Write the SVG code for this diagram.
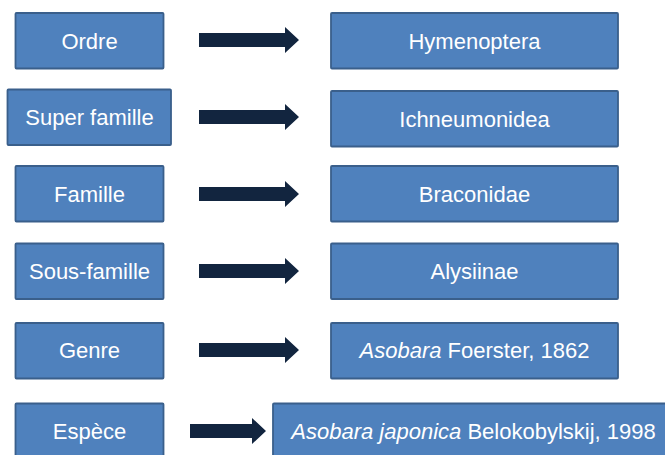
<svg xmlns="http://www.w3.org/2000/svg" width="665" height="455" viewBox="0 0 665 455">
<defs>
<style>
.box{fill:#4F81BD;stroke:#3A5F8B;stroke-width:1.8}
.t{font-family:"Liberation Sans",Arial,sans-serif;font-size:22px;fill:#FFFFFF;text-anchor:middle}
.arr{fill:#12253F}
.i{font-style:italic}
</style>
</defs>
<rect width="665" height="455" fill="#FFFFFF"/>
<g id="connectors">
<polygon class="arr" points="199,33 285,33 285,27 299,40 285,53 285,47 199,47"/>
<polygon class="arr" points="199,110 285,110 285,104 299,117 285,130 285,124 199,124"/>
<polygon class="arr" points="199,187 285,187 285,181 299,194 285,207 285,201 199,201"/>
<polygon class="arr" points="199,264 285,264 285,258 299,271 285,284 285,278 199,278"/>
<polygon class="arr" points="199,343 285,343 285,337 299,350 285,363 285,357 199,357"/>
<polygon class="arr" points="190,424 252,424 252,418 266,431 252,444 252,438 190,438"/>
</g>
<g id="ordre"><rect class="box" x="15.5" y="13" width="148" height="55.5" rx="1"/><text class="t" x="89.5" y="49">Ordre</text></g>
<g id="hymenoptera"><rect class="box" x="331" y="13" width="287" height="55.5" rx="1"/><text class="t" x="474.5" y="49">Hymenoptera</text></g>
<g id="superfamille"><rect class="box" x="7.5" y="89.5" width="163.5" height="55.5" rx="1"/><text class="t" x="89.5" y="125">Super famille</text></g>
<g id="ichneumonidea"><rect class="box" x="331" y="91" width="287" height="55.5" rx="1"/><text class="t" x="474.5" y="127">Ichneumonidea</text></g>
<g id="famille"><rect class="box" x="15.5" y="166" width="148" height="55.5" rx="1"/><text class="t" x="89.5" y="202">Famille</text></g>
<g id="braconidae"><rect class="box" x="331" y="166" width="287" height="55.5" rx="1"/><text class="t" x="474.5" y="202">Braconidae</text></g>
<g id="sousfamille"><rect class="box" x="15.5" y="243.5" width="148" height="55.5" rx="1"/><text class="t" x="89.5" y="279">Sous-famille</text></g>
<g id="alysiinae"><rect class="box" x="331" y="243.5" width="287" height="55.5" rx="1"/><text class="t" x="474.5" y="279">Alysiinae</text></g>
<g id="genre"><rect class="box" x="15.5" y="323" width="148" height="55.5" rx="1"/><text class="t" x="89.5" y="358">Genre</text></g>
<g id="asobara"><rect class="box" x="331" y="323" width="287" height="55.5" rx="1"/><text class="t" x="474.5" y="358"><tspan class="i">Asobara</tspan> Foerster, 1862</text></g>
<g id="espece"><rect class="box" x="15.5" y="403.5" width="148" height="55.5" rx="1"/><text class="t" x="89.5" y="439">Espèce</text></g>
<g id="japonica"><rect class="box" x="273" y="403.5" width="402" height="55.5" rx="1"/><text class="t" x="473.5" y="439"><tspan class="i">Asobara japonica</tspan> Belokobylskij, 1998</text></g>
</svg>
